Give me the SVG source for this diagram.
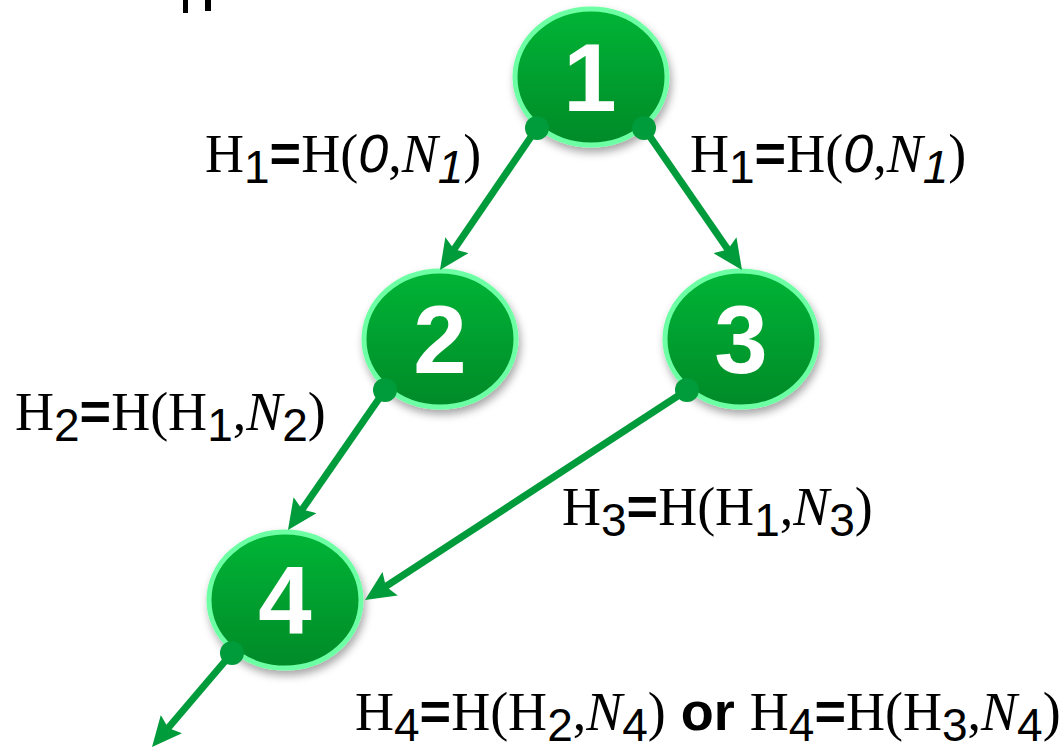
<svg xmlns="http://www.w3.org/2000/svg" width="1063" height="749" viewBox="0 0 1063 749">
<defs>
<linearGradient id="g" x1="0" y1="0" x2="0" y2="1">
<stop offset="0" stop-color="#00B536"/>
<stop offset="1" stop-color="#008A28"/>
</linearGradient>
<filter id="sh" x="-20%" y="-20%" width="140%" height="150%">
<feDropShadow dx="2" dy="5" stdDeviation="4" flood-color="#000" flood-opacity="0.35"/>
</filter>
<marker id="ah" markerUnits="userSpaceOnUse" viewBox="0 0 30 28" markerWidth="30" markerHeight="28" refX="14" refY="14" orient="auto">
<path d="M0,0 L30,14 L0,28 L5,14 z" fill="#009B3A"/>
</marker>
<style>
.node ellipse{fill:url(#g);stroke:#6DFFA3;stroke-width:5;filter:url(#sh)}
.node text{font-family:"Liberation Sans",Arial,sans-serif;font-weight:bold;font-size:96px;fill:#fff;text-anchor:middle}
.conn line{stroke:#009B3A;stroke-width:7;marker-end:url(#ah)}
.conn circle{fill:#009B3A}
.lbl{font-family:"Liberation Serif","Times New Roman",serif;font-size:54px;fill:#000}
.s{font-family:"Liberation Sans",Arial,sans-serif;font-size:46px}
.b{font-family:"Liberation Sans",Arial,sans-serif;font-weight:bold}
.i{font-style:italic}
.si{font-family:"Liberation Sans",Arial,sans-serif;font-style:italic}
</style>
</defs>
<rect width="1063" height="749" fill="#fff"/>
<rect x="183" y="0" width="5" height="13" fill="#000"/>
<rect x="205" y="0" width="6" height="11" fill="#000"/>
<g id="node1" class="node"><ellipse cx="591" cy="77" rx="76" ry="68"/><text x="590" y="111">1</text></g>
<g id="node2" class="node"><ellipse cx="440" cy="339" rx="76" ry="68"/><text x="440" y="373">2</text></g>
<g id="node3" class="node"><ellipse cx="741" cy="339" rx="76" ry="68"/><text x="741" y="373">3</text></g>
<g id="node4" class="node"><ellipse cx="285" cy="600" rx="76" ry="68"/><text x="285" y="634">4</text></g>
<g id="connectors" class="conn">
<line x1="537" y1="128" x2="449" y2="256.8"/>
<line x1="644" y1="128" x2="732.9" y2="256.8"/>
<line x1="385" y1="390" x2="297.1" y2="516.8"/>
<line x1="687" y1="390" x2="378.4" y2="591.3"/>
<line x1="232" y1="653" x2="162.4" y2="734.8"/>
<circle cx="537" cy="128" r="12"/>
<circle cx="644" cy="128" r="12"/>
<circle cx="385" cy="390" r="12"/>
<circle cx="687" cy="390" r="12"/>
<circle cx="232" cy="653" r="12"/>
</g>
<g id="labels">
<text class="lbl" x="205" y="172">H<tspan class="s" dy="11">1</tspan><tspan class="b" dy="-11">=</tspan>H(<tspan class="si">0</tspan>,<tspan class="i">N</tspan><tspan class="si" font-size="46" dy="11">1</tspan><tspan dy="-11">)</tspan></text>
<text class="lbl" x="690" y="172">H<tspan class="s" dy="11">1</tspan><tspan class="b" dy="-11">=</tspan>H(<tspan class="si">0</tspan>,<tspan class="i">N</tspan><tspan class="si" font-size="46" dy="11">1</tspan><tspan dy="-11">)</tspan></text>
<text class="lbl" x="15" y="430">H<tspan class="s" dy="11">2</tspan><tspan class="b" dy="-11">=</tspan>H(H<tspan class="s" dy="11">1</tspan><tspan dy="-11">,</tspan><tspan class="i">N</tspan><tspan class="s" dy="11">2</tspan><tspan dy="-11">)</tspan></text>
<text class="lbl" x="562" y="525">H<tspan class="s" dy="11">3</tspan><tspan class="b" dy="-11">=</tspan>H(H<tspan class="s" dy="11">1</tspan><tspan dy="-11">,</tspan><tspan class="i">N</tspan><tspan class="s" dy="11">3</tspan><tspan dy="-11">)</tspan></text>
<text class="lbl" x="355" y="730">H<tspan class="s" dy="11">4</tspan><tspan class="b" dy="-11">=</tspan>H(H<tspan class="s" dy="11">2</tspan><tspan dy="-11">,</tspan><tspan class="i">N</tspan><tspan class="s" dy="11">4</tspan><tspan dy="-11">)</tspan><tspan class="b"> or </tspan>H<tspan class="s" dy="11">4</tspan><tspan class="b" dy="-11">=</tspan>H(H<tspan class="s" dy="11">3</tspan><tspan dy="-11">,</tspan><tspan class="i">N</tspan><tspan class="s" dy="11">4</tspan><tspan dy="-11">)</tspan></text>
</g>
</svg>
